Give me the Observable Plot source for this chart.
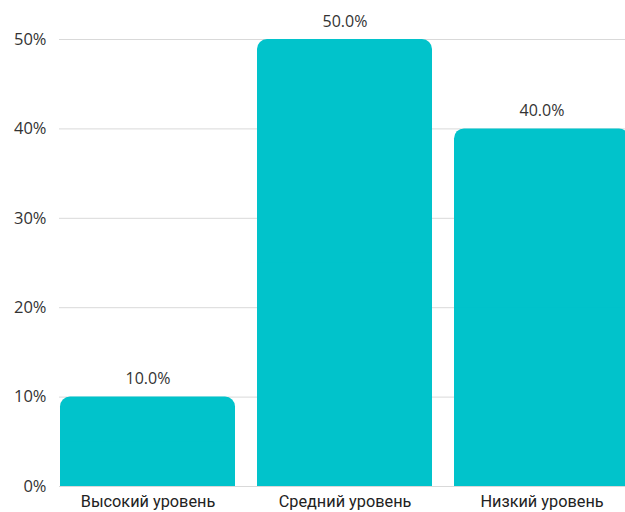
<!DOCTYPE html>
<html>
<head>
<meta charset="utf-8">
<script src="https://cdn.jsdelivr.net/npm/d3@7"></script>
<script src="https://cdn.jsdelivr.net/npm/@observablehq/plot@0.6"></script>
<style>
  html, body { margin: 0; padding: 0; background: #fff; }
  #chart svg { display: block; }
</style>
</head>
<body>
<div id="chart"></div>
<script>
const categories = ["Высокий уровень", "Средний уровень", "Низкий уровень"];
const values = [10, 50, 40];
const yTicks = [0, 10, 20, 30, 40, 50];

const data = categories.map((c, i) => ({category: c, value: values[i]}));
const teal = "#01C3CB";
const numFont = "'Open Sans', Roboto, sans-serif";

const chart = Plot.plot({
  width: 625,
  height: 512,
  marginLeft: 59,
  marginRight: 0,
  marginTop: 39,
  marginBottom: 26,
  style: {fontFamily: "Roboto, 'Liberation Sans', sans-serif", fontSize: "16px", color: "#333", background: "#fff", overflow: "visible"},
  x: {domain: categories, range: [59, 631], paddingInner: 0.111, paddingOuter: 0, label: null},
  y: {domain: [0, 50], label: null},
  marks: [
    Plot.ruleY(yTicks, {stroke: "#d9d9d9", strokeWidth: 1}),
    Plot.barY(data, {x: "category", y: "value", fill: teal, rx: 10}),
    Plot.barY(data, {x: "category", y1: 0, y2: d => d.value / 2, fill: teal}),
    Plot.text(data, {x: "category", y: "value", text: d => d.value.toFixed(1) + "%", dy: -18, fontSize: 16, fontFamily: numFont, fill: "#333"}),
    Plot.axisY({ticks: yTicks, tickFormat: d => d + "%", tickSize: 0, tickPadding: 13, fontSize: 16.5, fontFamily: numFont, label: null, fill: "#333"}),
    Plot.axisX({tickSize: 0, tickPadding: 9, fontSize: 16.3, label: null, fill: "#222"})
  ]
});
document.getElementById("chart").appendChild(chart);
</script>
</body>
</html>
